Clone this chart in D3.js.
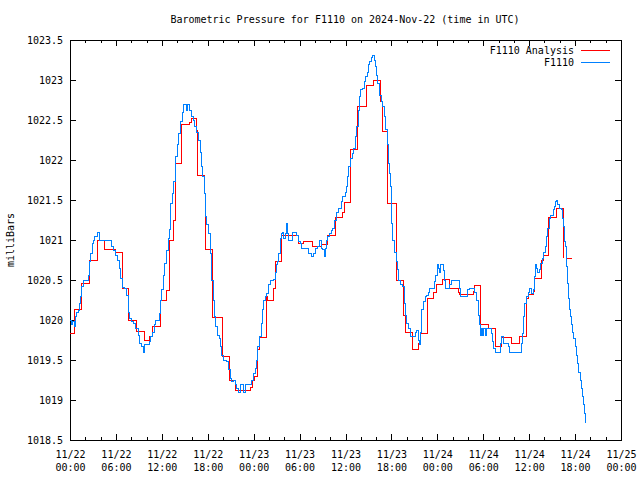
<!DOCTYPE html>
<html>
<head>
<meta charset="utf-8">
<script src="https://cdn.jsdelivr.net/npm/d3@7"></script>
<style>
  html, body { margin: 0; padding: 0; background: #fff; }
  svg { display: block; }
  text { font-family: "DejaVu Sans Mono", "Liberation Mono", monospace; font-size: 10px; fill: #000; }
</style>
</head>
<body>
<svg id="chart" width="640" height="480"></svg>
<script>
// ---- Data (hours since 2024-11-22 00:00 UTC) ----
const titleText = "Barometric Pressure for F1110 on 2024-Nov-22 (time in UTC)";
const yLabelText = "milliBars";
const seriesNames = ["F1110 Analysis", "F1110"];

const xTickHours = [0, 6, 12, 18, 24, 30, 36, 42, 48, 54, 60, 66, 72];
const xTickDates = ["11/22","11/22","11/22","11/22","11/23","11/23","11/23","11/23","11/24","11/24","11/24","11/24","11/25"];
const xTickTimes = ["00:00","06:00","12:00","18:00","00:00","06:00","12:00","18:00","00:00","06:00","12:00","18:00","00:00"];
const yTicks = [1018.5, 1019, 1019.5, 1020, 1020.5, 1021, 1021.5, 1022, 1022.5, 1023, 1023.5];

const analysisHours = [0.0,0.55,1.5,2.6,3.65,4.5,5.9,6.8,7.6,8.7,9.8,10.45,10.75,11.8,12.55,12.95,13.55,13.75,14.6,15.6,15.9,16.55,16.7,17.55,17.75,18.6,19.9,20.8,21.65,23.6,23.8,24.1,24.5,24.8,25.65,25.85,26.6,26.9,27.6,29.9,30.5,31.75,32.9,33.7,34.7,35.55,35.85,36.65,37.6,38.8,39.65,40.55,40.9,41.55,42.7,43.6,43.8,44.7,45.55,45.75,46.65,47.55,47.9,48.7,49.65,50.75,50.95,52.7,52.85,53.6,54.75,55.65,56.4,57.7,58.8,59.6,59.9,60.55,60.75,61.65,61.85,62.5,63.6,64.55,64.6,64.95,65.6];
const analysisValues = [1019.83,1020.13,1020.46,1020.74,1020.99,1020.88,1020.85,1020.40,1020.00,1019.86,1019.75,1019.80,1019.92,1020.25,1020.37,1021.00,1021.25,1021.96,1022.45,1022.47,1022.52,1022.37,1021.81,1021.58,1020.88,1020.03,1019.54,1019.25,1019.12,1019.16,1019.25,1019.29,1019.63,1019.78,1020.29,1020.25,1020.40,1020.73,1021.06,1020.96,1020.98,1020.92,1020.94,1021.06,1021.28,1021.34,1021.47,1022.13,1022.67,1022.93,1023.00,1022.73,1022.36,1021.46,1020.49,1020.06,1019.85,1019.63,1019.71,1019.83,1020.27,1020.35,1020.44,1020.51,1020.40,1020.34,1020.32,1020.36,1020.43,1019.95,1019.90,1019.67,1019.78,1019.71,1019.80,1020.27,1020.32,1020.36,1020.52,1020.75,1020.81,1021.28,1021.40,1020.77,null,1020.77,1020.77];

const f1110Hours = [0.00,0.22,0.39,0.57,0.66,0.83,1.05,1.27,1.40,1.53,1.70,2.14,2.36,2.58,2.71,2.88,3.01,3.23,3.54,3.80,5.20,5.41,5.72,5.98,6.16,6.42,6.59,6.81,7.16,7.38,7.60,7.82,8.03,8.34,8.60,8.91,9.13,9.34,9.56,9.78,10.09,10.35,10.57,10.79,11.00,11.22,11.57,11.75,11.88,12.01,12.18,12.40,12.62,12.84,12.97,13.14,13.36,13.58,13.80,14.02,14.24,14.45,14.67,14.89,15.11,15.24,15.37,15.55,15.68,15.90,16.11,16.33,16.55,16.77,16.99,17.21,17.34,17.51,17.69,17.77,17.86,18.08,18.30,18.52,18.69,18.82,19.04,19.26,19.48,19.61,19.83,20.04,20.48,20.70,20.92,21.14,21.35,21.57,21.79,22.01,22.23,22.45,22.66,22.91,23.10,23.56,23.78,24.00,24.22,24.43,24.56,24.74,24.96,25.13,25.30,25.52,25.74,25.96,26.18,26.61,26.79,26.96,27.13,27.31,27.48,27.66,27.79,27.92,28.14,28.27,28.40,28.57,28.79,29.01,29.44,29.66,29.88,30.10,30.31,30.97,31.18,31.62,31.84,32.06,32.36,32.58,32.80,33.01,33.23,33.41,33.54,33.71,33.93,34.15,34.36,34.58,34.80,35.02,35.24,35.45,35.67,35.98,36.19,36.32,36.45,36.63,36.85,37.06,37.28,37.50,37.67,37.80,38.02,38.24,38.46,38.63,38.81,38.98,39.20,39.42,39.59,39.77,39.90,40.03,40.20,40.42,40.64,40.86,41.07,41.29,41.46,41.59,41.73,41.86,41.99,42.07,42.20,42.38,42.60,42.77,42.94,43.16,43.47,43.68,43.81,44.03,44.25,44.47,44.90,45.12,45.34,45.56,45.69,45.82,45.95,46.17,46.39,46.60,46.82,47.04,47.47,47.69,47.82,48.00,48.13,48.26,48.43,48.61,48.78,48.91,49.09,49.43,49.65,49.87,50.74,50.87,51.00,51.74,51.96,52.26,52.70,52.92,53.14,53.36,53.48,53.66,53.79,53.92,54.09,54.27,54.44,55.10,55.23,55.40,55.57,56.18,56.31,56.45,56.62,57.27,57.49,58.80,59.02,59.15,59.32,59.45,59.67,59.89,60.10,60.32,60.54,60.67,60.80,60.98,61.11,61.32,61.50,61.72,61.93,62.11,62.28,62.46,62.63,62.80,62.98,63.15,63.33,63.50,63.63,63.76,63.94,64.16,64.33,64.51,64.64,64.77,64.90,65.03,65.16,65.33,65.46,65.59,65.72,65.85,66.03,66.16,66.33,66.51,66.68,66.86,66.99,67.12,67.25,67.38];
const f1110Values = [1019.99,1019.94,1019.98,1019.92,1020.04,1020.10,1020.12,1020.21,1020.29,1020.42,1020.49,1020.50,1020.56,1020.73,1020.83,1020.96,1021.00,1021.04,1021.10,1021.00,1021.00,1020.92,1020.87,1020.81,1020.75,1020.65,1020.52,1020.41,1020.40,1020.31,1020.10,1020.02,1019.98,1019.96,1019.90,1019.81,1019.71,1019.67,1019.59,1019.69,1019.70,1019.73,1019.79,1019.85,1019.94,1020.00,1020.00,1020.08,1020.25,1020.38,1020.56,1020.71,1020.87,1021.02,1021.13,1021.46,1021.58,1021.73,1022.04,1022.19,1022.33,1022.48,1022.60,1022.69,1022.70,1022.62,1022.70,1022.70,1022.62,1022.54,1022.50,1022.42,1022.35,1022.25,1022.10,1021.92,1021.79,1021.58,1021.44,1021.30,1021.20,1021.08,1020.83,1020.50,1020.25,1020.04,1019.92,1019.81,1019.77,1019.67,1019.56,1019.50,1019.48,1019.38,1019.27,1019.23,1019.25,1019.19,1019.15,1019.10,1019.19,1019.19,1019.10,1019.20,1019.19,1019.20,1019.25,1019.33,1019.40,1019.50,1019.67,1019.79,1019.96,1020.13,1020.25,1020.29,1020.33,1020.44,1020.50,1020.51,1020.60,1020.69,1020.73,1020.83,1021.02,1021.08,1021.10,1021.02,1021.08,1021.21,1021.08,1021.00,1021.00,1021.10,1021.10,1021.06,1020.98,1020.96,1020.90,1020.90,1020.83,1020.80,1020.83,1020.90,1020.92,1021.00,1020.90,1020.88,1020.80,1020.90,1021.00,1021.04,1021.08,1021.12,1021.15,1021.25,1021.34,1021.40,1021.40,1021.48,1021.54,1021.60,1021.67,1021.79,1021.92,1022.02,1022.08,1022.15,1022.29,1022.42,1022.62,1022.79,1022.88,1022.90,1022.98,1023.04,1023.10,1023.19,1023.23,1023.28,1023.31,1023.25,1023.17,1023.06,1022.96,1022.81,1022.73,1022.67,1022.54,1022.38,1022.19,1021.96,1021.83,1021.67,1021.44,1021.21,1021.00,1020.85,1020.73,1020.63,1020.50,1020.44,1020.42,1020.21,1020.06,1019.96,1019.90,1019.80,1019.80,1019.85,1019.87,1019.75,1019.69,1019.85,1020.13,1020.23,1020.29,1020.31,1020.35,1020.40,1020.40,1020.48,1020.56,1020.69,1020.65,1020.60,1020.69,1020.70,1020.62,1020.50,1020.40,1020.40,1020.44,1020.49,1020.49,1020.40,1020.30,1020.30,1020.38,1020.40,1020.40,1020.35,1020.25,1020.06,1019.94,1019.81,1019.90,1019.81,1019.90,1019.81,1019.90,1019.83,1019.73,1019.65,1019.59,1019.59,1019.71,1019.79,1019.71,1019.67,1019.60,1019.59,1019.71,1019.83,1020.04,1020.21,1020.29,1020.35,1020.40,1020.33,1020.38,1020.54,1020.69,1020.65,1020.60,1020.63,1020.71,1020.77,1020.85,1020.92,1021.04,1021.15,1021.27,1021.31,1021.31,1021.38,1021.42,1021.48,1021.50,1021.44,1021.40,1021.38,1021.27,1021.17,1020.98,1020.92,1020.67,1020.46,1020.27,1020.13,1020.04,1019.94,1019.85,1019.77,1019.67,1019.56,1019.46,1019.35,1019.25,1019.15,1019.04,1018.94,1018.83,1018.71];

const colors = ["#ff0000", "#0080ff"];

// ---- Layout ----
const svg = d3.select("#chart");
const plotL = 70, plotR = 621, plotT = 40, plotB = 440;

const x = d3.scaleLinear().domain([0, 72]).range([plotL, plotR]);
const y = d3.scaleLinear().domain([1018.5, 1023.5]).range([plotB, plotT]);

const fmtY = v => (Math.abs(v - Math.round(v)) < 1e-9) ? String(Math.round(v)) : v.toFixed(1);

// Title
svg.append("text").attr("x", 345).attr("y", 23).attr("text-anchor", "middle").text(titleText);

// Y label
svg.append("text")
  .attr("transform", "translate(14,240) rotate(-90)")
  .attr("text-anchor", "middle")
  .text(yLabelText);

// Axes
const axesG = svg.append("g").attr("shape-rendering", "crispEdges");

axesG.append("g").attr("transform", `translate(${plotL},0)`)
  .call(d3.axisLeft(y).tickValues(yTicks).tickSize(-6).tickPadding(7).tickFormat(fmtY));
axesG.append("g").attr("transform", `translate(${plotR},0)`)
  .call(d3.axisRight(y).tickValues(yTicks).tickSize(-6).tickFormat(""));

const minorHours = d3.range(0, 73, 2).filter(h => h % 6 !== 0);
axesG.append("g").attr("transform", `translate(0,${plotB})`)
  .call(d3.axisBottom(x).tickValues(minorHours).tickSize(-3).tickFormat(""));
axesG.append("g").attr("transform", `translate(0,${plotT})`)
  .call(d3.axisTop(x).tickValues(minorHours).tickSize(-3).tickFormat(""));
axesG.append("g").attr("transform", `translate(0,${plotT})`)
  .call(d3.axisTop(x).tickValues(xTickHours).tickSize(-6).tickFormat(""));
const bottomAxis = axesG.append("g").attr("transform", `translate(0,${plotB})`)
  .call(d3.axisBottom(x).tickValues(xTickHours).tickSize(-6).tickPadding(8).tickFormat(""));

bottomAxis.selectAll(".tick").each(function(d, i) {
  const t = d3.select(this).select("text");
  t.attr("y", 0).attr("dy", null);
  t.append("tspan").attr("x", 0).attr("y", 18).text(xTickDates[i]);
  t.append("tspan").attr("x", 0).attr("y", 31).text(xTickTimes[i]);
});

axesG.selectAll(".domain").remove();
axesG.selectAll(".tick text").style("font-family", "'DejaVu Sans Mono', monospace").style("font-size", "10px").attr("fill", "#000");
axesG.selectAll(".tick line").attr("stroke", "#000");

// Frame
axesG.append("rect")
  .attr("x", plotL + 0.5).attr("y", plotT + 0.5)
  .attr("width", plotR - plotL).attr("height", plotB - plotT)
  .attr("fill", "none").attr("stroke", "#000");

// Series
const analysisData = analysisHours.map((h, i) => ({ h, v: analysisValues[i] }));
const f1110Data = f1110Hours.map((h, i) => ({ h, v: f1110Values[i] }));

const line = d3.line()
  .defined(d => d.v !== null)
  .x(d => x(d.h))
  .y(d => y(d.v))
  .curve(d3.curveStepAfter);

svg.append("path").datum(analysisData)
  .attr("d", line).attr("fill", "none").attr("stroke", colors[0])
  .attr("stroke-width", 1).attr("shape-rendering", "crispEdges");
svg.append("path").datum(f1110Data)
  .attr("d", line).attr("fill", "none").attr("stroke", colors[1])
  .attr("stroke-width", 1).attr("shape-rendering", "crispEdges");

// Legend
const legendRows = [50, 62];
seriesNames.forEach((name, i) => {
  svg.append("text").attr("x", 574).attr("y", legendRows[i] + 4)
    .attr("text-anchor", "end").text(name);
  svg.append("line")
    .attr("x1", 581).attr("x2", 610)
    .attr("y1", legendRows[i] + 0.5).attr("y2", legendRows[i] + 0.5)
    .attr("stroke", colors[i]).attr("stroke-width", 1).attr("shape-rendering", "crispEdges");
});
</script>
</body>
</html>
